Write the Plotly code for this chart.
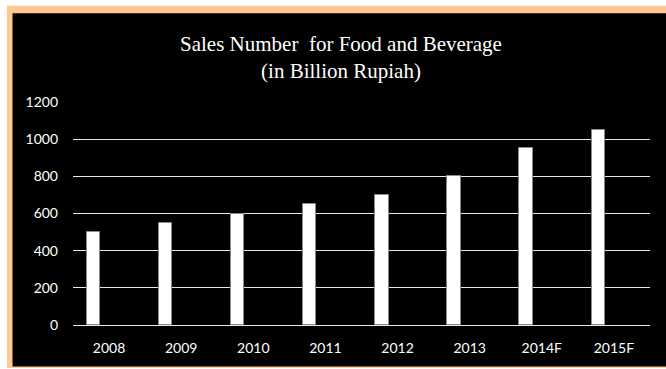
import plotly.graph_objects as go

years = ["2008", "2009", "2010", "2011", "2012", "2013", "2014F", "2015F"]
sales = [500, 550, 600, 650, 700, 800, 950, 1050]
y_ticks = [0, 200, 400, 600, 800, 1000, 1200]

W, H = 666, 369
L, R, T, B = 73, 650, 101.5, 325
pw, ph = R - L, B - T


def px(x):
    return (x - L) / pw


def py(y):
    return (B - y) / ph


fig = go.Figure()
fig.add_trace(go.Bar(
    x=years, y=sales,
    offset=-0.31, width=0.185,
    marker=dict(color="white", line=dict(color="#8a8a8a", width=1)),
    hoverinfo="x+y",
))

shapes = [
    dict(type="rect", xref="paper", yref="paper", layer="below",
         x0=px(7), x1=px(680), y0=py(368.2), y1=py(5),
         fillcolor="#FFC891", line=dict(width=0)),
    dict(type="rect", xref="paper", yref="paper", layer="below",
         x0=px(12.5), x1=px(680), y0=py(366.6), y1=py(12.5),
         fillcolor="#000000", line=dict(width=0)),
]

fig.update_layout(
    width=W, height=H,
    margin=dict(l=L, r=W - R, t=T, b=H - B, pad=0),
    paper_bgcolor="white",
    plot_bgcolor="rgba(0,0,0,0)",
    shapes=shapes,
    showlegend=False,
    bargap=0,
    title=dict(
        text="Sales Number  for Food and Beverage<br>(in Billion Rupiah)",
        font=dict(family="Liberation Serif", size=21, color="white"),
        xref="container", x=341 / W, xanchor="center",
        yref="container", y=1 - 51 / H, yanchor="top",
    ),
    xaxis=dict(
        type="category",
        showgrid=False, zeroline=False, showline=False,
        ticks="", ticklabelstandoff=13,
        tickfont=dict(family="Lato", size=14, color="white"),
        range=[-0.5, len(years) - 0.5],
    ),
    yaxis=dict(
        range=[0, 1200],
        tickvals=y_ticks,
        showgrid=True, gridcolor="#e6e6e6", gridwidth=1,
        zeroline=True, zerolinecolor="#e6e6e6", zerolinewidth=1,
        showline=False, ticks="", ticklabelstandoff=14,
        tickfont=dict(family="Lato", size=14, color="white"),
    ),
)

fig.write_html("out.html")
